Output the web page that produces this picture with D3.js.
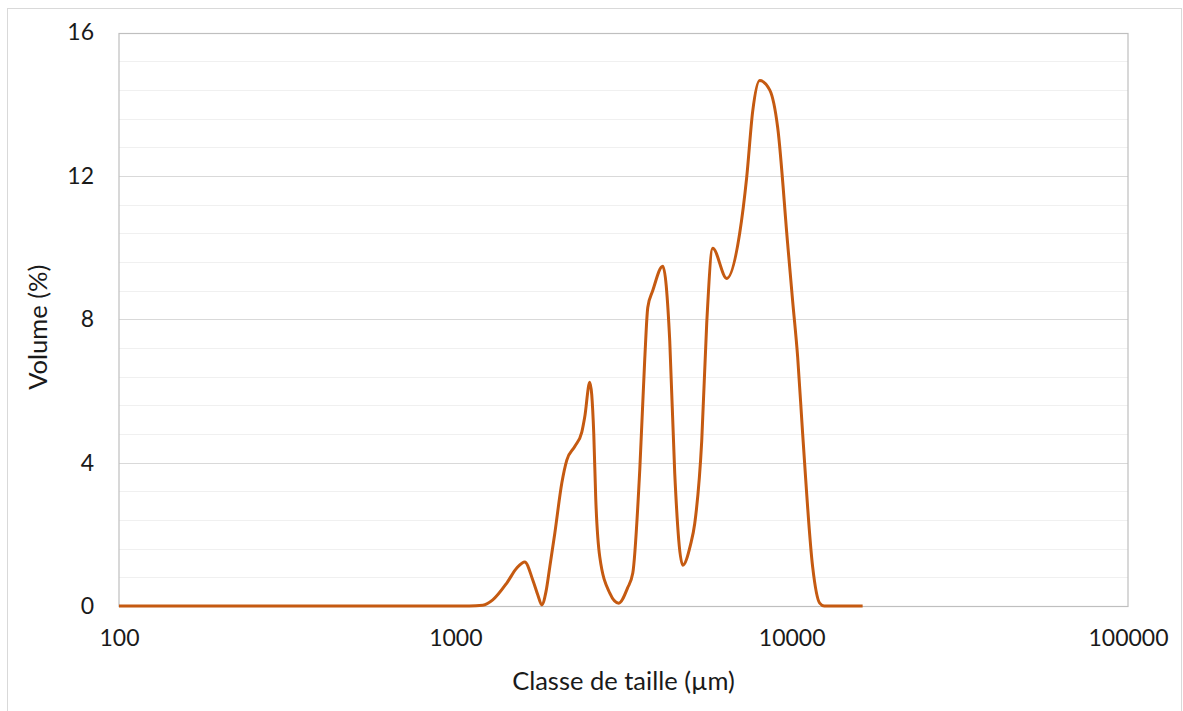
<!DOCTYPE html>
<html>
<head>
<meta charset="utf-8">
<script src="https://cdn.jsdelivr.net/npm/d3@7"></script>
<style>
  html, body { margin: 0; padding: 0; background: #fff; }
  svg { display: block; font-family: Lato, "Open Sans", sans-serif; }
</style>
</head>
<body>
<svg id="chart" width="1183" height="711"></svg>
<script>
// Particle size classes (µm) and volume fraction (%)
const sizes = [100, 1000, 1100, 1207, 1292, 1422, 1523, 1609, 1700, 1760, 1807, 1860, 1909, 1976, 2073, 2145, 2265, 2377, 2425, 2510, 2580, 2615, 2688, 2879, 3061, 3250, 3370, 3535, 3658, 3734, 3864, 4138, 4340, 4491, 4744, 5000, 5150, 5402, 5591, 5825, 6411, 7006, 7350, 7658, 8035, 8602, 9087, 9730, 10069, 10420, 10782, 11545, 12114, 12500, 16255];
const volume = [0, 0, 0, 0.02, 0.17, 0.64, 1.06, 1.23, 0.72, 0.3, 0.03, 0.4, 1.09, 2.03, 3.43, 4.07, 4.45, 4.85, 5.27, 6.24, 4.8, 3.0, 1.37, 0.36, 0.08, 0.5, 0.92, 3.8, 6.9, 8.33, 8.8, 9.48, 7.4, 3.7, 1.14, 1.7, 2.3, 4.6, 7.9, 9.98, 9.14, 10.4, 11.96, 13.8, 14.66, 14.4, 13.35, 10.1, 8.5, 6.94, 4.8, 1.09, 0.08, 0, 0];

const xTicks = [100, 1000, 10000, 100000];
const yTicks = [0, 4, 8, 12, 16];
const yMinorStep = 0.8;

const xTitle = "Classe de taille (µm)";
const yTitle = "Volume (%)";

const svg = d3.select("#chart");
const plot = { left: 119, right: 1128, top: 32.5, bottom: 606 };

// outer chart border
svg.append("rect")
  .attr("x", 7.5).attr("y", 8.5)
  .attr("width", 1174).attr("height", 720)
  .attr("fill", "#fff").attr("stroke", "#D9D9D9").attr("stroke-width", 1);

const x = d3.scaleLog().domain([100, 100000]).range([plot.left, plot.right]);
const y = d3.scaleLinear().domain([0, 16]).range([plot.bottom, plot.top]);

// minor gridlines
const minor = d3.range(0, 16 + 1e-9, yMinorStep).filter(v => !yTicks.some(t => Math.abs(t - v) < 1e-6));
svg.append("g").selectAll("line").data(minor).join("line")
  .attr("x1", plot.left).attr("x2", plot.right)
  .attr("y1", d => Math.round(y(d)) + 0.5).attr("y2", d => Math.round(y(d)) + 0.5)
  .attr("stroke", "#F0F0F0").attr("stroke-width", 1);

// major gridlines
svg.append("g").selectAll("line").data(yTicks).join("line")
  .attr("x1", plot.left).attr("x2", plot.right)
  .attr("y1", d => Math.round(y(d)) + 0.5).attr("y2", d => Math.round(y(d)) + 0.5)
  .attr("stroke", "#D9D9D9").attr("stroke-width", 1);

// plot frame
svg.append("rect")
  .attr("x", plot.left).attr("y", Math.round(plot.top) + 0.5)
  .attr("width", plot.right - plot.left).attr("height", Math.round(plot.bottom) - Math.round(plot.top))
  .attr("fill", "none").attr("stroke", "#BFBFBF").attr("stroke-width", 1.2);

// y axis labels
const yAxis = d3.axisLeft(y).tickValues(yTicks).tickSize(0).tickPadding(25).tickFormat(d3.format("d"));
const gy = svg.append("g").attr("transform", `translate(${plot.left},0)`).call(yAxis);
gy.select(".domain").remove();
gy.selectAll("text").attr("font-size", 23).attr("fill", "#1a1a1a").attr("font-family", "Lato, sans-serif");

// x axis labels
const xAxis = d3.axisBottom(x).tickValues(xTicks).tickSize(0).tickPadding(24).tickFormat(d3.format("d"));
const gx = svg.append("g").attr("transform", `translate(0,${plot.bottom})`).call(xAxis);
gx.select(".domain").remove();
gx.selectAll("text").attr("font-size", 23).attr("fill", "#1a1a1a").attr("font-family", "Lato, sans-serif");

// axis titles
svg.append("text")
  .attr("x", (plot.left + plot.right) / 2).attr("y", 690)
  .attr("text-anchor", "middle").attr("font-size", 25.5).attr("fill", "#1a1a1a")
  .text(xTitle);

svg.append("text")
  .attr("transform", `translate(47,${(plot.top + plot.bottom) / 2 + 8}) rotate(-90)`)
  .attr("text-anchor", "middle").attr("font-size", 25.5).attr("fill", "#1a1a1a")
  .text(yTitle);

// distribution curve
const data = sizes.map((s, i) => ({ s, v: volume[i] }));
const line = d3.line()
  .x(d => x(d.s))
  .y(d => y(d.v))
  .curve(d3.curveMonotoneX);

svg.append("path")
  .datum(data)
  .attr("d", line)
  .attr("fill", "none")
  .attr("stroke", "#C55A11")
  .attr("stroke-width", 3)
  .attr("stroke-linejoin", "round");
</script>
</body>
</html>
